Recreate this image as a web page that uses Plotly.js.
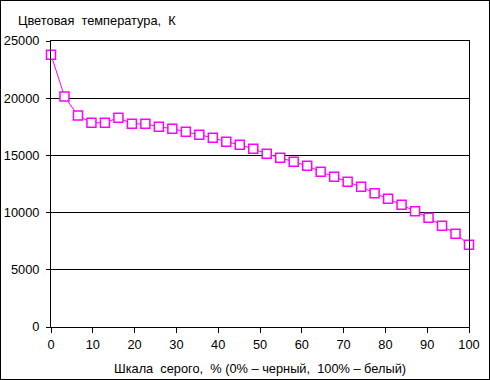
<!DOCTYPE html>
<html>
<head>
<meta charset="utf-8">
<script src="https://cdn.plot.ly/plotly-3.0.1.min.js"></script>
<style>
html,body{margin:0;padding:0;background:#fff;}
#chart{width:490px;height:380px;box-sizing:border-box;border:1px solid #000;}
</style>
</head>
<body>
<div id="chart"></div>
<script>
// Grey level steps (0..31) mapped to percent of grey scale
const grayPercent = [
  0, 3.226, 6.452, 9.677, 12.903, 16.129, 19.355, 22.581,
  25.806, 29.032, 32.258, 35.484, 38.710, 41.935, 45.161, 48.387,
  51.613, 54.839, 58.065, 61.290, 64.516, 67.742, 70.968, 74.194,
  77.419, 80.645, 83.871, 87.097, 90.323, 93.548, 96.774, 100
];
// Colour temperature, K
const colorTemp = [
  23800, 20150, 18480, 17850, 17850, 18300, 17760, 17760,
  17500, 17330, 17060, 16800, 16540, 16190, 15925, 15575,
  15140, 14790, 14440, 14090, 13565, 13130, 12690, 12250,
  11700, 11200, 10680, 10120, 9545, 8845, 8145, 7200
];
const xTicks = [0, 10, 20, 30, 40, 50, 60, 70, 80, 90, 100];
const yTicks = [0, 5000, 10000, 15000, 20000, 25000];
const yTitle = "Цветовая  температура,  К";
const xTitle = "Шкала  серого,  % (0% – черный,  100% – белый)";

const font = {family: "Liberation Sans, Arial, sans-serif", size: 12.8, color: "#000"};

const trace = {
  x: grayPercent,
  y: colorTemp,
  type: "scatter",
  mode: "lines+markers",
  line: {color: "#ff00ff", width: 1},
  marker: {symbol: "square", size: 9, color: "#ffffff", line: {color: "#ff00ff", width: 1.5}},
  cliponaxis: false,
  hoverinfo: "skip"
};

const layout = {
  width: 488, height: 378,
  margin: {l: 50, r: 20, t: 40, b: 52, pad: 0},
  paper_bgcolor: "#fff",
  plot_bgcolor: "#fff",
  font: font,
  showlegend: false,
  xaxis: {
    range: [0, 100],
    tickvals: xTicks,
    ticktext: xTicks.map(String),
    ticks: "outside", ticklen: 5, tickwidth: 1, tickcolor: "#000",
    ticklabelstandoff: 1,
    showgrid: false, zeroline: false,
    showline: true, linecolor: "#000", linewidth: 1, mirror: true,
    tickfont: font,
    title: {text: xTitle, font: font, standoff: 12}
  },
  yaxis: {
    range: [0, 25000],
    tickvals: yTicks,
    ticktext: yTicks.map(String),
    ticks: "outside", ticklen: 4, tickwidth: 1, tickcolor: "#000",
    ticklabelstandoff: 4,
    showgrid: true, gridcolor: "#000", gridwidth: 1,
    zeroline: false,
    showline: true, linecolor: "#000", linewidth: 1, mirror: true,
    tickfont: font
  },
  annotations: [{
    text: yTitle, xref: "paper", yref: "paper",
    x: -0.084, y: 1.0, xanchor: "left", yanchor: "bottom", yshift: 11,
    showarrow: false, font: font
  }]
};

Plotly.newPlot("chart", [trace], layout, {displayModeBar: false, staticPlot: true});
</script>
</body>
</html>
